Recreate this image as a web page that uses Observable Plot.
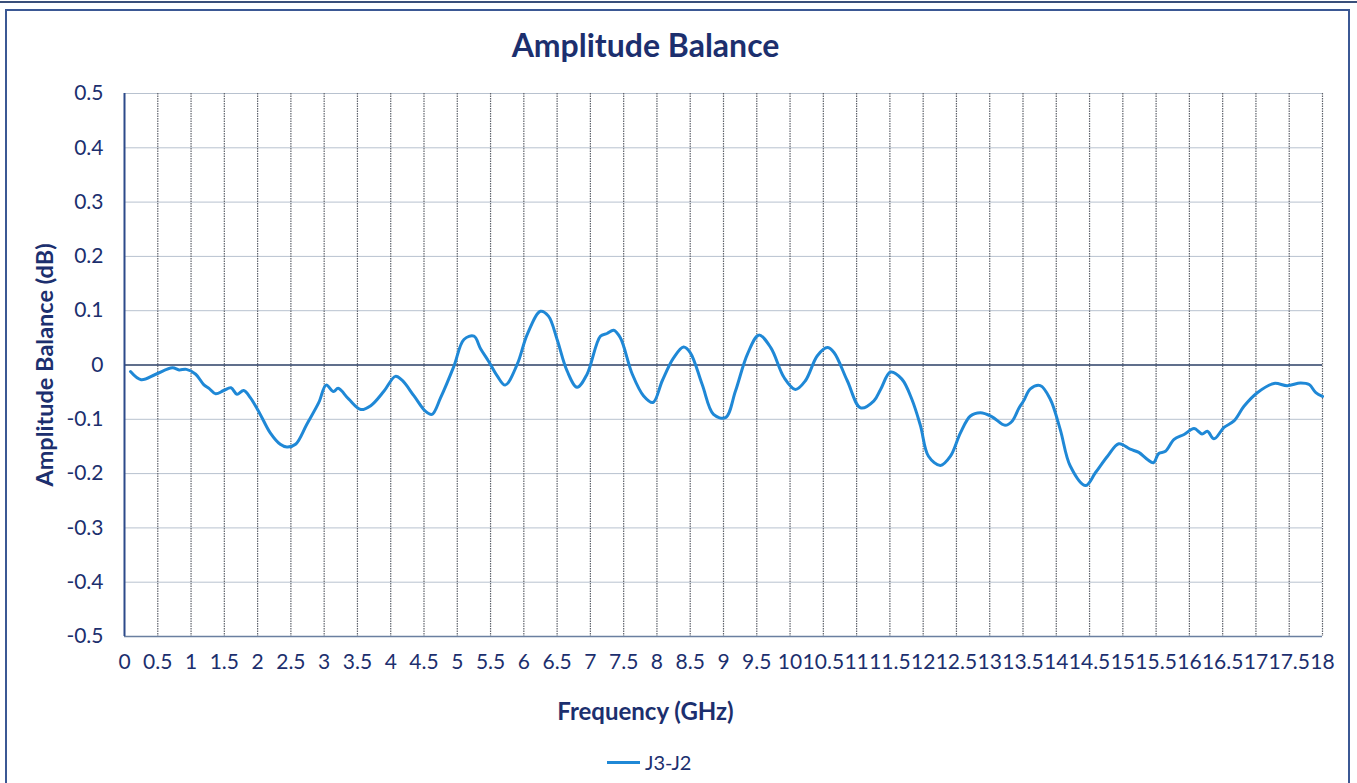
<!DOCTYPE html>
<html>
<head>
<meta charset="utf-8">
<script src="https://cdn.jsdelivr.net/npm/d3@7"></script>
<script src="https://cdn.jsdelivr.net/npm/@observablehq/plot@0.6"></script>
<style>
  html, body { margin: 0; padding: 0; background: #fff; }
  body { width: 1357px; height: 783px; position: relative; overflow: hidden; font-family: Lato, "Open Sans", sans-serif; }
  #outerTop { position: absolute; left: 0; top: 1px; width: 1357px; height: 0; border-top: 2px solid #3a4f7a; }
  #panel { position: absolute; left: 5px; top: 9px; width: 1345px; height: 800px; border: 2px solid #3b5894; box-sizing: border-box; }
  #title { position: absolute; left: 0; width: 1291px; top: 25px; text-align: center; font-size: 32px; font-weight: 700; color: #1c2f6e; }
  #chart { position: absolute; left: 0; top: 0; }
  #legend { position: absolute; left: 607px; top: 750px; display: flex; align-items: center; font-size: 20px; color: #1c2f6e; }
  #legend .sw { width: 33px; height: 0; border-top: 3px solid #1f88d6; margin-right: 5px; }
</style>
</head>
<body>
<div id="outerTop"></div>
<div id="panel"></div>
<div id="title">Amplitude Balance</div>
<div id="chart"></div>
<div id="legend"><span class="sw"></span><span>J3-J2</span></div>
<script>
// Data
const seriesName = "J3-J2";
const freq = [0.09,0.25,0.47,0.72,0.82,0.93,1.07,1.19,1.27,1.37,1.49,1.60,1.69,1.79,1.89,2.04,2.19,2.34,2.44,2.57,2.74,2.92,3.03,3.14,3.21,3.37,3.55,3.70,3.90,4.07,4.17,4.35,4.52,4.62,4.75,4.95,5.10,5.25,5.35,5.47,5.60,5.72,5.90,6.05,6.25,6.37,6.50,6.65,6.80,6.95,7.15,7.25,7.35,7.45,7.63,7.80,7.94,8.08,8.25,8.40,8.50,8.68,8.85,9.03,9.18,9.36,9.53,9.71,9.91,10.08,10.23,10.41,10.56,10.66,10.86,11.06,11.26,11.36,11.51,11.68,11.83,11.96,12.08,12.26,12.41,12.56,12.71,12.86,13.03,13.23,13.34,13.44,13.51,13.61,13.76,13.91,14.06,14.21,14.44,14.59,14.77,14.94,15.11,15.24,15.37,15.46,15.54,15.64,15.77,15.92,16.07,16.19,16.27,16.37,16.52,16.67,16.82,17.02,17.27,17.47,17.67,17.80,17.90,18.00];
const balance = [-0.012,-0.027,-0.017,-0.005,-0.009,-0.008,-0.017,-0.036,-0.043,-0.053,-0.047,-0.042,-0.054,-0.047,-0.060,-0.091,-0.125,-0.146,-0.151,-0.146,-0.109,-0.069,-0.037,-0.049,-0.043,-0.063,-0.082,-0.075,-0.048,-0.021,-0.028,-0.057,-0.085,-0.091,-0.060,-0.002,0.047,0.053,0.030,0.007,-0.020,-0.037,0.001,0.056,0.099,0.090,0.047,-0.011,-0.041,-0.017,0.053,0.058,0.064,0.050,-0.017,-0.057,-0.069,-0.029,0.013,0.033,0.023,-0.036,-0.091,-0.097,-0.048,0.020,0.055,0.032,-0.023,-0.045,-0.029,0.017,0.032,0.023,-0.029,-0.079,-0.066,-0.045,-0.013,-0.026,-0.063,-0.112,-0.168,-0.185,-0.168,-0.125,-0.094,-0.088,-0.095,-0.111,-0.103,-0.079,-0.066,-0.044,-0.038,-0.063,-0.119,-0.186,-0.222,-0.198,-0.168,-0.145,-0.155,-0.161,-0.174,-0.180,-0.163,-0.159,-0.137,-0.128,-0.117,-0.127,-0.122,-0.136,-0.115,-0.103,-0.076,-0.051,-0.034,-0.038,-0.033,-0.036,-0.051,-0.058];
const xTicks = d3.range(0, 18.001, 0.5);
const yTicks = [-0.5,-0.4,-0.3,-0.2,-0.1,0,0.1,0.2,0.3,0.4,0.5];
const xTitle = "Frequency (GHz)";
const yTitle = "Amplitude Balance (dB)";

const data = freq.map((f, i) => ({f, v: balance[i]}));
const navy = "#1c2f6e";

const chart = Plot.plot({
  width: 1357,
  height: 740,
  marginLeft: 124,
  marginRight: 35,
  marginTop: 93,
  marginBottom: 104,
  style: {fontFamily: "Lato, 'Open Sans', sans-serif", fontSize: "21px", color: navy, background: "transparent"},
  x: {domain: [0, 18]},
  y: {domain: [-0.5, 0.5]},
  marks: [
    Plot.ruleY(yTicks.filter(d => d !== 0 && d !== -0.5), {stroke: "#b8c2cf", strokeWidth: 1}),
    Plot.ruleX(xTicks.filter(d => d > 0), {stroke: "#5f636c", strokeWidth: 1.2, strokeDasharray: "1.5,1"}),
    Plot.ruleY([0], {stroke: "#2b3f66", strokeWidth: 1.5}),
    Plot.ruleY([-0.5], {stroke: "#6a7fa0", strokeWidth: 1.5}),
    Plot.ruleX([0], {stroke: "#2d4a8a", strokeWidth: 2}),
    Plot.axisX({ticks: xTicks, tickSize: 0, tickPadding: 18, tickFormat: d => String(+d.toFixed(1)), label: null, fontSize: 21}),
    Plot.axisY({ticks: yTicks, tickSize: 0, tickPadding: 21, tickFormat: d => String(+d.toFixed(1)), label: null, fontSize: 21}),
    Plot.line(data, {x: "f", y: "v", stroke: "#1f88d6", strokeWidth: 3, curve: "catmull-rom"}),
    Plot.text([xTitle], {frameAnchor: "bottom", lineAnchor: "middle", textAnchor: "middle", dx: -78, dy: 76, fontSize: 24, fontWeight: "bold", fill: navy}),
    Plot.text([yTitle], {frameAnchor: "left", lineAnchor: "middle", textAnchor: "middle", dx: -79, rotate: -90, fontSize: 23.5, fontWeight: "bold", fill: navy})
  ]
});
document.getElementById("chart").appendChild(chart);
</script>
</body>
</html>
